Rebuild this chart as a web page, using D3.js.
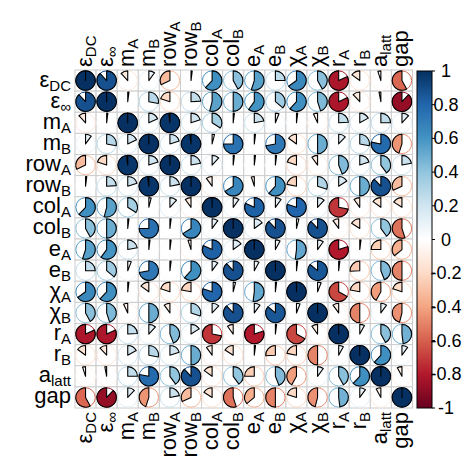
<!DOCTYPE html>
<html>
<head>
<meta charset="utf-8">
<script src="https://cdnjs.cloudflare.com/ajax/libs/d3/7.8.5/d3.min.js"></script>
<style>
  body { margin: 0; background: #fff; }
  text { font-family: "Liberation Sans", Arial, sans-serif; }
</style>
</head>
<body>
<svg id="chart" width="463" height="466"></svg>
<script>
// variable labels: [base, subscript]
var varNames = [["ε","DC"],["ε","∞"],["m","A"],["m","B"],["row","A"],["row","B"],
                ["col","A"],["col","B"],["e","A"],["e","B"],["χ","A"],["χ","B"],
                ["r","A"],["r","B"],["a","latt"],["gap",""]];

// correlation matrix, one row per variable
var rEpsDC = [1, 0.88, -0.12, 0.10, -0.32, 0.02, 0.62, 0.42, 0.55, 0.25, 0.65, 0.42, -0.82, -0.15, -0.05, -0.58];
var rEpsInf = [0.88, 1, 0.02, 0.28, -0.20, 0.24, 0.54, 0.50, 0.60, 0.36, 0.62, 0.45, -0.82, -0.12, -0.03, -0.88];
var rMA = [-0.12, 0.02, 1, 0.18, 0.98, 0.20, 0.34, 0.02, 0.22, 0.06, 0.02, -0.07, 0.24, 0.17, 0.25, 0.12];
var rMB = [0.10, 0.28, 0.18, 1, 0.20, 0.98, 0.04, 0.75, 0.02, 0.72, -0.15, 0.50, 0.12, 0.28, 0.78, -0.45];
var rRowA = [-0.32, -0.20, 0.98, 0.20, 1, 0.22, 0.12, 0.02, 0.02, 0.02, -0.20, -0.10, 0.44, 0.20, 0.40, 0.22];
var rRowB = [0.02, 0.24, 0.20, 0.98, 0.22, 1, -0.10, 0.66, -0.05, 0.62, -0.22, 0.30, 0.16, 0.50, 0.88, -0.32];
var rColA = [0.62, 0.54, 0.34, 0.04, 0.12, -0.10, 1, 0.10, 0.82, 0.10, 0.80, 0.12, -0.72, -0.10, -0.15, -0.16];
var rColB = [0.42, 0.50, 0.02, 0.75, 0.02, 0.66, 0.10, 1, 0.15, 0.88, 0.04, 0.88, -0.10, -0.16, 0.40, -0.55];
var rEA = [0.55, 0.60, 0.22, 0.02, 0.02, -0.05, 0.82, 0.15, 1, 0.08, 0.52, 0.10, -0.80, 0.02, -0.25, -0.36];
var rEB = [0.25, 0.36, 0.06, 0.72, 0.02, 0.62, 0.10, 0.88, 0.08, 1, 0.02, 0.86, 0.02, -0.26, 0.44, -0.50];
var rChiA = [0.65, 0.62, 0.02, -0.15, -0.20, -0.22, 0.80, 0.04, 0.52, 0.02, 1, 0.06, -0.67, -0.22, -0.42, -0.20];
var rChiB = [0.42, 0.45, -0.07, 0.50, -0.10, 0.30, 0.12, 0.88, 0.10, 0.86, 0.06, 1, -0.10, -0.50, 0.10, -0.46];
var rRA = [-0.82, -0.82, 0.24, 0.12, 0.44, 0.16, -0.72, -0.10, -0.80, 0.02, -0.67, -0.10, 1, 0.08, 0.42, 0.48];
var rRB = [-0.15, -0.12, 0.17, 0.28, 0.20, 0.50, -0.10, -0.16, 0.02, -0.26, -0.22, -0.50, 0.08, 1, 0.62, 0.10];
var rALatt = [-0.05, -0.03, 0.25, 0.78, 0.40, 0.88, -0.15, 0.40, -0.25, 0.44, -0.42, 0.10, 0.42, 0.62, 1, -0.08];
var rGap = [-0.58, -0.88, 0.12, -0.45, 0.22, -0.32, -0.16, -0.55, -0.36, -0.50, -0.20, -0.46, 0.48, 0.10, -0.08, 1];

var corrRows = [rEpsDC, rEpsInf, rMA, rMB, rRowA, rRowB, rColA, rColB,
                rEA, rEB, rChiA, rChiB, rRA, rRB, rALatt, rGap];

var legendTicks = [1, 0.8, 0.6, 0.4, 0.2, 0, -0.2, -0.4, -0.6, -0.8, -1];

// RdBu ramp like corrplot's COL2
var rampColors = ["#67001F","#B2182B","#D6604D","#F4A582","#FDDBC7","#FFFFFF",
                  "#D1E5F0","#92C5DE","#4393C3","#2166AC","#053061"];

var svg = d3.select("#chart");
var n = varNames.length;

var x = d3.scaleBand().domain(d3.range(n)).range([75, 412.5]);
var y = d3.scaleBand().domain(d3.range(n)).range([70, 408]);
var color = d3.scaleLinear()
    .domain(d3.range(rampColors.length).map(function(i) { return -1 + 2 * i / (rampColors.length - 1); }))
    .range(rampColors);

var cw = x.bandwidth(), rad = cw * 0.46;

var cells = [];
corrRows.forEach(function(row, i) {
    row.forEach(function(v, j) { cells.push({i: i, j: j, v: v}); });
});

var g = svg.append("g");
// grid
g.selectAll("rect.cell").data(cells).enter().append("rect")
    .attr("class", "cell")
    .attr("x", function(d) { return x(d.j); })
    .attr("y", function(d) { return y(d.i); })
    .attr("width", cw).attr("height", y.bandwidth())
    .attr("fill", "white")
    .attr("stroke", "#cccccc").attr("stroke-width", 1);

var arc = d3.arc().innerRadius(0).outerRadius(rad).startAngle(0);

var pies = g.selectAll("g.pie").data(cells).enter().append("g")
    .attr("class", "pie")
    .attr("transform", function(d) {
        return "translate(" + (x(d.j) + cw / 2) + "," + (y(d.i) + y.bandwidth() / 2) + ")";
    });

pies.append("circle")
    .attr("r", rad)
    .attr("fill", "none")
    .attr("stroke", function(d) { return color(d.v); })
    .attr("stroke-width", 1);

pies.append("path")
    .attr("d", function(d) {
        var a = d.v * 2 * Math.PI * 0.99999;
        return arc({endAngle: a});
    })
    .attr("fill", function(d) { return color(d.v); })
    .attr("stroke", "black")
    .attr("stroke-width", 1.1)
    .attr("stroke-linejoin", "round");

// labels
function addLabel(sel, lab) {
    sel.append("tspan").text(lab[0]);
    if (lab[1]) {
        sel.append("tspan").attr("font-size", "15px").attr("dy", "4").text(lab[1]);
    }
}
var fs = "22px";

varNames.forEach(function(lab, i) {
    var t = svg.append("text")
        .attr("x", 71).attr("y", y(i) + y.bandwidth() / 2 + 6)
        .attr("text-anchor", "end").attr("font-size", fs);
    addLabel(t, lab);

    var tt = svg.append("text")
        .attr("transform", "translate(" + (x(i) + cw / 2 + 6) + ",67) rotate(-90)")
        .attr("text-anchor", "start").attr("font-size", fs);
    addLabel(tt, lab);

    var tb = svg.append("text")
        .attr("transform", "translate(" + (x(i) + cw / 2 + 6) + ",412) rotate(-90)")
        .attr("text-anchor", "end").attr("font-size", fs);
    addLabel(tb, lab);
});

// colour legend
var ly = d3.scaleLinear().domain([-1, 1]).range([408, 71]);
var defs = svg.append("defs");
var grad = defs.append("linearGradient").attr("id", "cbar")
    .attr("x1", 0).attr("y1", 1).attr("x2", 0).attr("y2", 0);
rampColors.forEach(function(c, i) {
    grad.append("stop").attr("offset", i / (rampColors.length - 1)).attr("stop-color", c);
});
svg.append("rect")
    .attr("x", 417).attr("y", ly(1))
    .attr("width", 15).attr("height", ly(-1) - ly(1))
    .attr("fill", "url(#cbar)")
    .attr("stroke", "black").attr("stroke-width", 1);

var lt = svg.append("g");
lt.selectAll("line").data(legendTicks).enter().append("line")
    .attr("x1", 432).attr("x2", 435)
    .attr("y1", function(d) { return ly(d); })
    .attr("y2", function(d) { return ly(d); })
    .attr("stroke", "black");
lt.selectAll("text").data(legendTicks).enter().append("text")
    .attr("x", 446).attr("y", function(d) { return ly(d) + 6; })
    .attr("text-anchor", "middle").attr("font-size", "18px")
    .text(function(d) { return String(d); });
</script>
</body>
</html>
